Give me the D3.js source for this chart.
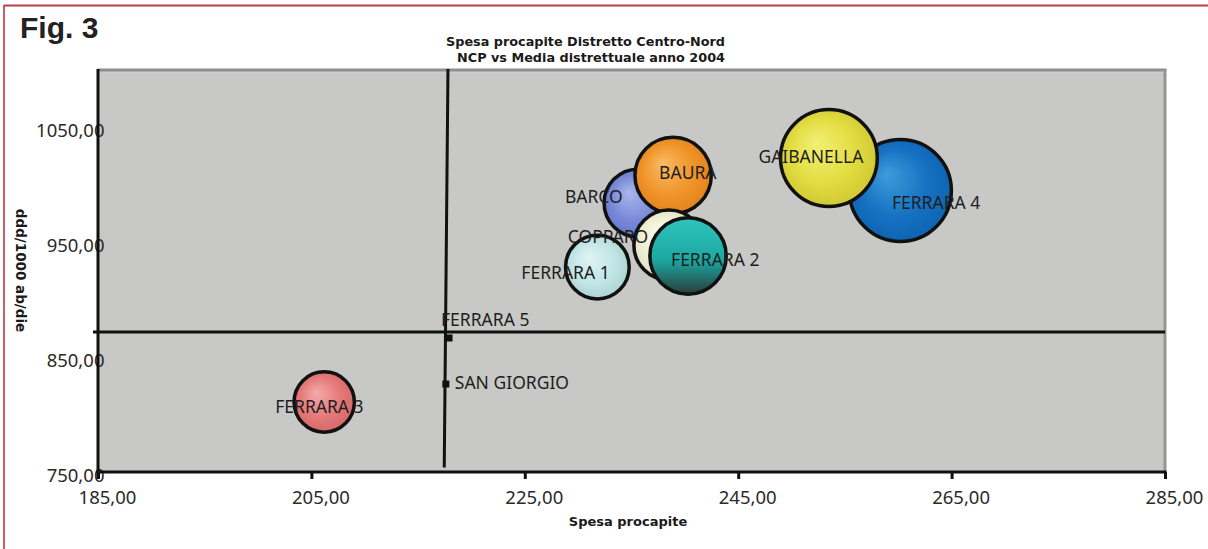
<!DOCTYPE html>
<html>
<head>
<meta charset="utf-8">
<script src="https://cdn.jsdelivr.net/npm/d3@7"></script>
<style>
  body { margin: 0; background: #ffffff; }
  svg { display: block; }
</style>
</head>
<body>
<svg id="chart" width="1208" height="549"></svg>
<script>
// Districts of the Centro-Nord area, drawn in this order (later ones on top)
const districts = ["FERRARA 4", "GAIBANELLA", "BARCO", "BAURA", "COPPARO", "FERRARA 2", "FERRARA 1", "FERRARA 3", "FERRARA 5", "SAN GIORGIO"];
// Spesa procapite (x)
const spesa = [260.2, 253.5, 235.6, 238.9, 238.5, 240.3, 231.8, 206.2, 217.9, 217.6];
// ddd/1000 ab/die (y)
const ddd = [994.5, 1022.7, 983.6, 1007.5, 947.2, 937.6, 928.0, 810.8, 866.4, 826.4];
// Bubble size (relative)
const sizes = [100, 90, 44, 56, 47, 56, 39, 35, 0, 0];

const xTicks = [185, 205, 225, 245, 265, 285];
const yTicks = [750, 850, 950, 1050];

// District average reference lines
const meanSpesaLine = [[217.8, 1100], [217.45, 754]];
const meanDdd = 871.6;

// ---- styling ----
const fills = {
  "FERRARA 4":  ["#3d9cda", "#1672c2", "#0b5ead"],
  "GAIBANELLA": ["#f2f074", "#e3dd42", "#c9c12d"],
  "BARCO":      ["#aab6ec", "#7a8ad9", "#5d6dc9"],
  "BAURA":      ["#f9bb64", "#f0952a", "#df7c18"],
  "COPPARO":    ["#fcfcf0", "#efefd4", "#d9d9ba"],
  "FERRARA 2":  ["#2dc5bd", "#1ca8a2", "#2a3b3b"],
  "FERRARA 1":  ["#e0f4f4", "#c3e5e5", "#a5cdcd"],
  "FERRARA 3":  ["#f5aaaa", "#e47a7a", "#d16161"]
};
// label placement relative to the bubble centre (px): left edge, vertical centre
const labelNudge = {
  "FERRARA 4":  [-8.5, 12.5],
  "GAIBANELLA": [-70.5, -1],
  "BARCO":      [-73, -6],
  "BAURA":      [-14, -2.5],
  "COPPARO":    [-101, -8],
  "FERRARA 2":  [-17, 4],
  "FERRARA 1":  [-76, 6],
  "FERRARA 3":  [-49, 5],
  "FERRARA 5":  [-8, -18],
  "SAN GIORGIO": [9, -1]
};

const svg = d3.select("#chart");
const W = 1208, H = 549;
const plot = { left: 98, right: 1165, top: 69, bottom: 472 };

const x = d3.scaleLinear().domain([185, 285]).range([plot.left, plot.right]);
const y = d3.scaleLinear().domain([750, 1100]).range([plot.bottom, plot.top]);
const r = d3.scaleSqrt().domain([0, 100]).range([0, 51]);

const it = d3.formatLocale({ decimal: ",", thousands: ".", grouping: [3], currency: ["€", ""] });
const fmt = it.format(".2f");

const points = districts.map((name, i) => ({ name, x: spesa[i], y: ddd[i], s: sizes[i] }));

// ---- page frame ----
svg.append("line").attr("x1", 4).attr("x2", W).attr("y1", 5.5).attr("y2", 5.5)
  .attr("stroke", "#b84046").attr("stroke-width", 2);
svg.append("line").attr("x1", 4).attr("x2", 4).attr("y1", 5).attr("y2", H)
  .attr("stroke", "#c02a30").attr("stroke-width", 1.5);

svg.append("text").attr("x", 20).attr("y", 37.5)
  .attr("font-family", "'Liberation Sans', Arial, sans-serif")
  .attr("font-weight", "bold").attr("font-size", 30).attr("fill", "#222")
  .text("Fig. 3");

// ---- titles ----
const titleFont = "'DejaVu Sans', sans-serif";
svg.append("text").attr("x", 725).attr("y", 46).attr("text-anchor", "end")
  .attr("font-family", titleFont).attr("font-weight", "bold").attr("font-size", 12.8).attr("fill", "#1a1a1a")
  .text("Spesa procapite Distretto Centro-Nord");
svg.append("text").attr("x", 725).attr("y", 62).attr("text-anchor", "end")
  .attr("font-family", titleFont).attr("font-weight", "bold").attr("font-size", 12.8).attr("fill", "#1a1a1a")
  .text("NCP vs Media distrettuale anno 2004");

svg.append("text").attr("x", 628).attr("y", 525.5).attr("text-anchor", "middle")
  .attr("font-family", titleFont).attr("font-weight", "bold").attr("font-size", 13).attr("fill", "#1a1a1a")
  .text("Spesa procapite");

svg.append("text")
  .attr("transform", `translate(16,${(plot.top + plot.bottom) / 2}) rotate(90)`)
  .attr("text-anchor", "middle")
  .attr("font-family", titleFont).attr("font-weight", "bold").attr("font-size", 13.5).attr("fill", "#1a1a1a")
  .text("ddd/1000 ab/die");

// ---- plot area ----
svg.append("rect").attr("x", plot.left).attr("y", plot.top)
  .attr("width", plot.right - plot.left).attr("height", plot.bottom - plot.top)
  .attr("fill", "#c8c8c6");
svg.append("line").attr("x1", plot.left).attr("x2", plot.right).attr("y1", plot.top + 3).attr("y2", plot.top + 3)
  .attr("stroke", "#d6d6d4").attr("stroke-width", 1);
svg.append("line").attr("x1", plot.left).attr("x2", plot.right + 1.5).attr("y1", plot.top + 1).attr("y2", plot.top + 1)
  .attr("stroke", "#8e8e8e").attr("stroke-width", 3);
svg.append("line").attr("x1", plot.right).attr("x2", plot.right).attr("y1", plot.top).attr("y2", plot.bottom)
  .attr("stroke", "#959595").attr("stroke-width", 3);

// ---- y axis labels (drawn under the axis line) ----
const yAxis = d3.axisLeft(y).tickValues(yTicks).tickSize(0).tickFormat(fmt);
const gy = svg.append("g").attr("transform", `translate(${plot.left},0)`).call(yAxis);
gy.select(".domain").remove();
gy.selectAll("text")
  .attr("x", 6.5).attr("dy", 9.5).attr("text-anchor", "end")
  .attr("font-family", "'Noto Sans', sans-serif").attr("font-size", 18.5).attr("fill", "#2a2a2a");

// ---- x axis ----
const xAxis = d3.axisBottom(x).tickValues(xTicks).tickSize(7).tickFormat(fmt);
const gx = svg.append("g").attr("transform", `translate(0,${plot.bottom})`).call(xAxis);
gx.select(".domain").remove();
gx.selectAll(".tick line").attr("stroke", "#111").attr("stroke-width", 3);
gx.selectAll("text")
  .attr("x", 9).attr("y", 31.5).attr("dy", 0)
  .attr("font-family", "'Noto Sans', sans-serif").attr("font-size", 18.5).attr("fill", "#2a2a2a");

svg.append("line").attr("x1", plot.left - 1.5).attr("x2", plot.right + 1.5)
  .attr("y1", plot.bottom).attr("y2", plot.bottom)
  .attr("stroke", "#111").attr("stroke-width", 3);
svg.append("line").attr("x1", plot.left).attr("x2", plot.left)
  .attr("y1", plot.top).attr("y2", plot.bottom + 7)
  .attr("stroke", "#111").attr("stroke-width", 3);

// ---- average reference lines ----
svg.append("line")
  .attr("x1", plot.left - 5).attr("x2", plot.right)
  .attr("y1", y(meanDdd)).attr("y2", y(meanDdd))
  .attr("stroke", "#111").attr("stroke-width", 3);
svg.append("line")
  .attr("x1", x(meanSpesaLine[0][0])).attr("y1", y(meanSpesaLine[0][1]))
  .attr("x2", x(meanSpesaLine[1][0])).attr("y2", y(meanSpesaLine[1][1]))
  .attr("stroke", "#111").attr("stroke-width", 3);

// ---- gradients ----
const defs = svg.append("defs");
points.filter(d => d.s > 0).forEach((d, i) => {
  const c = fills[d.name];
  const id = "g" + i;
  d.grad = id;
  let g;
  if (d.name === "FERRARA 2") {
    g = defs.append("linearGradient").attr("id", id).attr("x1", 0).attr("y1", 0).attr("x2", 0).attr("y2", 1);
    g.append("stop").attr("offset", "0%").attr("stop-color", c[0]);
    g.append("stop").attr("offset", "55%").attr("stop-color", c[1]);
    g.append("stop").attr("offset", "100%").attr("stop-color", c[2]);
  } else {
    g = defs.append("radialGradient").attr("id", id)
      .attr("cx", "50%").attr("cy", "50%").attr("r", "60%").attr("fx", "36%").attr("fy", "34%");
    g.append("stop").attr("offset", "0%").attr("stop-color", c[0]);
    g.append("stop").attr("offset", "55%").attr("stop-color", c[1]);
    g.append("stop").attr("offset", "100%").attr("stop-color", c[2]);
  }
});

// ---- bubbles ----
const bubbles = points.filter(d => d.s > 0);
svg.append("g").selectAll("circle").data(bubbles).join("circle")
  .attr("cx", d => x(d.x)).attr("cy", d => y(d.y)).attr("r", d => r(d.s))
  .attr("fill", d => `url(#${d.grad})`)
  .attr("stroke", "#111").attr("stroke-width", 3.5);

// zero-size districts shown as small markers
const dots = points.filter(d => d.s === 0);
svg.append("g").selectAll("rect").data(dots).join("rect")
  .attr("x", d => x(d.x) - 3.5).attr("y", d => y(d.y) - 3.5)
  .attr("width", 7).attr("height", 7).attr("fill", "#111");

// ---- labels ----
svg.append("g").selectAll("text").data(points).join("text")
  .attr("x", d => x(d.x) + labelNudge[d.name][0])
  .attr("y", d => y(d.y) + labelNudge[d.name][1] + 6.3)
  .attr("font-family", "'Noto Sans', sans-serif").attr("font-size", 17.5).attr("fill", "#1e1e1e")
  .text(d => d.name);
</script>
</body>
</html>
